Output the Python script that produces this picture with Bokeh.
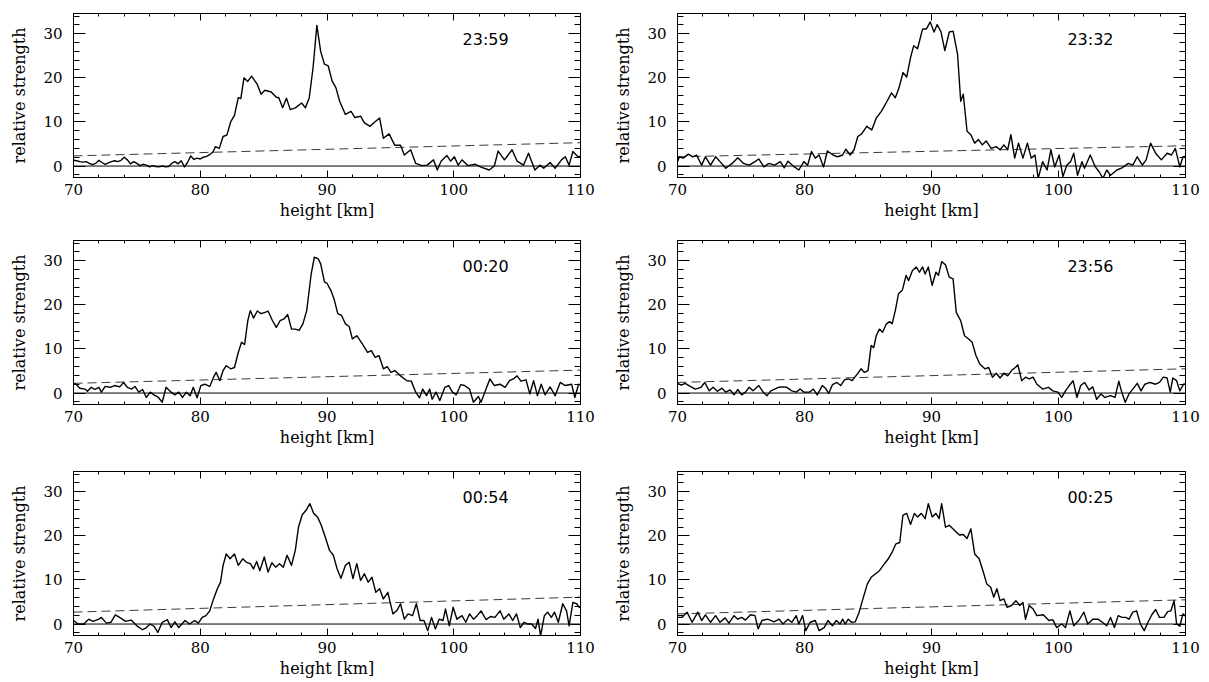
from bokeh.plotting import figure
from bokeh.layouts import column, row
from bokeh.models import LinearAxis, SingleIntervalTicker, Range1d, ColumnDataSource, Span
from bokeh.core.properties import value
from bokeh.embed import file_html
from bokeh.resources import INLINE

# ---------------- data ----------------
labels = ["23:59", "23:32", "00:20", "23:56", "00:54", "00:25"]

# 23:59
h_2359 = [70.0, 70.25, 70.5, 70.75, 71.0, 71.25, 71.5, 71.75, 72.0, 72.25, 72.5, 72.75, 73.0, 73.25, 73.5, 73.75,
          74.0, 74.25, 74.5, 74.75, 75.0, 75.25, 75.5, 75.75, 76.0, 76.25, 76.5, 76.75, 77.0, 77.25, 77.5, 77.75,
          78.0, 78.25, 78.5, 78.75, 79.0, 79.25, 79.5, 79.75, 80.0, 80.25, 80.5, 80.75, 81.0, 81.2, 81.5, 81.8,
          82.1, 82.4, 82.7, 83.0, 83.2, 83.45, 83.75, 84.05, 84.5, 84.8, 85.1, 85.6, 86.0, 86.2, 86.5, 86.8,
          87.1, 87.5, 88.0, 88.3, 88.6, 88.9, 89.2, 89.5, 89.8, 90.1, 90.4, 90.7, 91.0, 91.45, 91.9, 92.2,
          92.65, 92.95, 93.4, 93.7, 94.15, 94.45, 94.9, 95.35, 95.8, 96.1, 96.6, 97.0, 97.5, 97.9, 98.4, 98.7,
          99.0, 99.45, 99.75, 100.05, 100.35, 100.65, 101.1, 101.7, 102.2, 102.8, 103.2, 103.5, 104.0, 104.6,
          105.0, 105.5, 105.9, 106.4, 106.8, 107.1, 107.6, 108.0, 108.5, 108.8, 109.1, 109.4, 109.8, 110.0]
s_2359 = [1.3, 1.2, 1.0, 0.9, 1.0, 0.6, 0.3, 0.6, 1.3, 0.8, 0.4, 0.7, 1.0, 1.2, 1.0, 1.3,
          2.0, 1.4, 0.5, 1.0, 0.6, 0.1, 0.4, 0.2, -0.2, 0.1, -0.1, -0.2, 0.0, -0.2, -0.1, 0.6,
          1.0, 0.5, 1.2, -0.2, 0.8, 2.3, 1.5, 1.8, 1.6, 2.0, 2.2, 2.6, 3.2, 4.4, 4.0, 6.7,
          7.0, 10.0, 11.5, 15.5, 15.3, 20.0, 19.2, 20.4, 18.5, 16.3, 17.2, 16.8, 15.6, 15.5, 13.2, 15.4,
          12.8, 13.2, 14.3, 13.2, 15.5, 22.3, 31.9, 26.0, 23.1, 22.7, 19.3, 17.8, 14.7, 11.7, 12.4, 11.0,
          11.3, 9.8, 9.0, 9.8, 10.9, 6.3, 7.3, 4.7, 4.7, 2.5, 3.7, 0.6, 0.1, 0.2, 1.4, -0.9,
          1.1, 2.4, 1.1, 2.1, 0.2, 1.4, 0.1, 0.4, -0.3, -0.9, 0.0, 3.4, 1.4, 3.7,
          1.1, 0.2, 2.9, -0.9, 0.2, -0.5, 0.8, -0.5, 1.4, 2.1, 0.2, 3.3, 2.1, 2.2]

# 23:32
h_2332 = [70.0, 70.15, 70.45, 70.85, 71.2, 71.5, 71.9, 72.2, 72.6, 73.0, 73.35, 73.8, 74.3, 74.75, 75.2, 75.65,
          76.1, 76.4, 76.8, 77.2, 77.65, 78.1, 78.4, 78.7, 79.2, 79.55, 79.95, 80.25, 80.55, 80.85, 81.15, 81.5,
          81.8, 82.25, 82.6, 83.0, 83.25, 83.6, 83.9, 84.2, 84.5, 84.9, 85.3, 85.65, 86.05, 86.5, 86.85, 87.15,
          87.45, 87.75, 88.05, 88.35, 88.6, 88.9, 89.3, 89.6, 89.9, 90.2, 90.45, 90.75, 91.05, 91.4, 91.7, 92.05,
          92.3, 92.5, 92.8, 93.1, 93.4, 93.7, 94.0, 94.3, 94.7, 95.1, 95.4, 95.7, 96.0, 96.25, 96.55, 96.85,
          97.2, 97.55, 97.85, 98.15, 98.4, 98.75, 99.1, 99.4, 99.7, 100.05, 100.35, 100.65, 100.95, 101.2, 101.5, 101.85,
          102.05, 102.5, 102.9, 103.2, 103.5, 103.8, 104.1, 104.6, 105.0, 105.5, 105.85, 106.2, 106.6, 106.9, 107.25, 107.65,
          108.1, 108.55, 108.9, 109.2, 109.55, 109.8, 110.0]
s_2332 = [1.0, 2.1, 1.8, 2.7, 2.1, 2.5, 0.2, 2.1, 0.2, 2.1, 1.0, -0.5, 0.6, 1.9, 0.6, 0.2,
          1.0, 1.6, -0.2, 0.6, 0.2, 1.0, -0.4, 1.1, -0.2, -0.9, 1.0, 0.2, 3.3, 1.8, 2.5, -0.2,
          3.4, 2.5, 2.1, 2.5, 3.8, 2.5, 3.7, 6.7, 7.3, 9.0, 8.2, 10.9, 12.4, 14.7, 16.6, 15.5,
          17.8, 21.2, 20.2, 24.6, 27.3, 26.6, 31.1, 31.1, 32.7, 30.4, 32.1, 30.4, 26.2, 30.4, 30.6, 25.4,
          14.7, 16.3, 7.9, 7.1, 5.2, 6.0, 4.8, 5.7, 4.0, 4.4, 3.7, 4.8, 3.7, 7.1, 1.8, 5.2,
          1.8, 5.2, 1.8, 2.5, -2.8, 1.0, -0.9, 3.7, -0.2, 2.5, -2.4, 0.2, 1.0, 2.9, -2.1, 1.0,
          -0.5, 2.5, -0.2, -1.3, -2.8, -0.9, -2.1, -0.9, -0.4, 0.6, 0.2, 2.1, 0.2, 1.4, 5.2, 2.9,
          1.4, 2.9, 2.5, 4.0, -0.2, 2.1, 2.2]

# 00:20
h_0020 = [70.0, 70.2, 70.5, 70.9, 71.1, 71.4, 71.7, 72.0, 72.2, 72.5, 72.9, 73.25, 73.65, 73.95, 74.25, 74.6,
          74.85, 75.15, 75.45, 75.75, 76.05, 76.35, 76.7, 77.0, 77.3, 77.7, 78.0, 78.3, 78.6, 78.9, 79.2, 79.45,
          79.75, 80.05, 80.35, 80.75, 81.05, 81.25, 81.55, 81.8, 82.05, 82.4, 82.7, 83.0, 83.25, 83.5, 83.75, 83.95,
          84.2, 84.5, 84.8, 85.1, 85.35, 85.7, 86.0, 86.3, 86.6, 86.9, 87.2, 87.5, 87.8, 88.1, 88.4, 88.75,
          89.0, 89.3, 89.5, 89.8, 90.0, 90.3, 90.55, 90.85, 91.15, 91.45, 91.75, 92.0, 92.35, 92.8, 93.2, 93.5,
          93.8, 94.1, 94.45, 94.75, 95.05, 95.35, 95.8, 96.3, 96.65, 97.0, 97.3, 97.55, 97.85, 98.1, 98.3, 98.6,
          98.9, 99.3, 99.6, 99.9, 100.2, 100.55, 100.85, 101.25, 101.55, 101.95, 102.15, 102.45, 102.85, 103.2, 103.65, 104.05,
          104.4, 104.7, 105.0, 105.3, 105.7, 106.0, 106.3, 106.6, 106.9, 107.2, 107.6, 108.0, 108.4, 108.8, 109.3, 109.55,
          109.85, 110.0]
s_0020 = [2.2, 2.0, 1.1, 0.9, 0.4, 1.3, 0.8, 1.3, 0.2, 1.5, 1.3, 1.7, 1.4, 2.4, 1.3, 0.9,
          1.5, 0.2, 0.8, -1.0, 0.2, -0.4, -1.0, -2.1, 1.3, 0.2, -0.4, 0.2, -1.0, 0.2, -0.6, 1.3,
          -1.1, 1.7, 2.0, 1.5, 3.6, 4.7, 2.8, 5.1, 6.2, 5.5, 5.8, 9.2, 11.5, 11.0, 16.4, 18.7,
          17.0, 18.6, 18.0, 18.3, 18.6, 16.4, 14.9, 16.4, 16.8, 17.8, 14.5, 14.5, 14.2, 15.7, 18.7, 27.0,
          30.8, 30.5, 29.3, 25.2, 24.9, 23.3, 21.4, 18.0, 17.6, 15.7, 15.1, 12.3, 13.0, 11.1, 9.2, 9.6,
          8.1, 8.5, 5.5, 6.0, 4.7, 5.1, 3.9, 2.8, 2.7, 0.2, -1.1, 0.9, -0.6, 0.9, -1.4, 0.2,
          -1.7, 1.3, 1.7, 0.2, -0.4, 1.9, 1.7, 0.9, -2.1, -0.8, -2.1, 0.2, 3.2, 1.7, 2.0, 1.3,
          2.8, 3.2, 3.9, 2.7, 3.0, -0.2, 2.8, -0.6, 2.0, -0.4, 1.4, -0.6, 2.4, 1.7, 2.0, -1.0,
          2.0, 1.8]

# 23:56
h_2356 = [70.0, 70.3, 70.6, 71.0, 71.4, 71.85, 72.15, 72.5, 72.8, 73.15, 73.5, 73.8, 74.15, 74.45, 74.75, 75.05,
          75.35, 75.65, 75.95, 76.4, 76.75, 77.05, 77.35, 77.65, 77.95, 78.25, 78.6, 79.0, 79.35, 79.65, 79.95, 80.4,
          80.7, 81.0, 81.4, 81.65, 81.9, 82.2, 82.55, 82.85, 83.15, 83.45, 83.75, 84.15, 84.45, 84.7, 85.0, 85.25,
          85.45, 85.65, 85.9, 86.15, 86.45, 86.7, 86.9, 87.15, 87.4, 87.7, 88.0, 88.2, 88.5, 88.8, 89.05, 89.3,
          89.5, 89.75, 90.05, 90.35, 90.55, 90.8, 91.1, 91.4, 91.7, 91.95, 92.3, 92.6, 92.9, 93.2, 93.5, 93.8,
          94.2, 94.5, 94.8, 95.1, 95.4, 95.7, 96.0, 96.3, 96.6, 96.8, 97.1, 97.4, 97.7, 98.0, 98.3, 98.75,
          99.2, 99.55, 99.95, 100.25, 100.55, 100.85, 101.15, 101.45, 101.75, 102.05, 102.4, 102.7, 103.0, 103.35, 103.65, 104.1,
          104.45, 104.75, 104.95, 105.25, 105.55, 105.85, 106.2, 106.5, 106.8, 107.2, 107.65, 107.95, 108.25, 108.55, 108.8, 109.0,
          109.3, 109.55, 109.85, 110.0]
s_2356 = [2.2, 1.8, 2.2, 1.5, 0.9, 1.3, 2.4, 0.5, 1.3, 0.4, 1.1, 0.2, 0.7, -0.4, 0.8, -0.4,
          0.2, 1.3, 0.5, 1.7, 0.2, -0.6, 0.5, 0.9, 1.3, 1.4, 1.3, 0.5, 0.2, 0.9, 0.2, 0.2,
          0.9, -0.4, 1.7, 1.1, -0.1, 1.9, 2.4, 1.7, 3.0, 3.2, 2.8, 4.3, 5.5, 4.7, 5.1, 10.8,
          10.3, 13.0, 14.5, 13.8, 15.7, 16.2, 15.7, 18.7, 22.5, 23.3, 26.7, 25.5, 27.8, 28.6, 27.4, 28.6,
          27.0, 28.6, 24.4, 27.4, 26.7, 29.8, 29.1, 26.3, 25.9, 18.3, 16.4, 13.0, 12.3, 11.5, 8.5, 6.6,
          5.5, 5.8, 3.6, 4.5, 3.4, 4.5, 3.9, 5.1, 5.8, 6.4, 2.8, 3.6, 3.2, 3.6, 2.0, 0.9,
          1.3, 0.5, 0.2, -1.0, 0.5, 1.7, 2.8, -1.0, 1.7, 2.4, 0.7, 1.4, -1.4, -0.2, -1.0, -0.6,
          -1.0, 2.7, 0.5, -2.1, -0.2, 0.9, 2.2, 0.5, 2.0, 2.4, 2.0, 2.4, 3.6, 3.4, 0.2, 3.4,
          2.8, 0.5, 2.0, 2.1]

# 00:54
h_0054 = [70.0, 70.35, 70.8, 71.2, 71.55, 72.0, 72.2, 72.6, 72.95, 73.3, 73.7, 74.1, 74.55, 75.0, 75.45, 75.75,
          76.05, 76.35, 76.65, 77.0, 77.4, 77.7, 78.0, 78.3, 78.8, 79.15, 79.55, 79.85, 80.15, 80.45, 80.75, 81.05,
          81.35, 81.6, 81.8, 82.05, 82.35, 82.7, 83.0, 83.35, 83.65, 83.95, 84.2, 84.45, 84.7, 85.05, 85.35, 85.65,
          85.95, 86.25, 86.55, 86.85, 87.2, 87.5, 87.75, 88.05, 88.35, 88.65, 88.95, 89.25, 89.55, 89.9, 90.2, 90.5,
          90.8, 91.1, 91.45, 91.75, 92.05, 92.35, 92.65, 92.95, 93.25, 93.55, 93.85, 94.15, 94.45, 94.8, 95.2, 95.5,
          95.8, 96.1, 96.4, 96.75, 97.05, 97.35, 97.65, 97.95, 98.25, 98.55, 98.85, 99.15, 99.35, 99.65, 99.95, 100.25,
          100.65, 100.95, 101.25, 101.55, 101.85, 102.15, 102.55, 102.9, 103.25, 103.65, 103.95, 104.35, 104.65, 104.95, 105.25, 105.55,
          105.85, 106.15, 106.45, 106.65, 106.85, 107.15, 107.4, 107.7, 107.95, 108.25, 108.6, 108.9, 109.1, 109.4, 109.7, 109.9, 110.0]
s_0054 = [0.8, 0.0, 0.0, 1.1, 0.6, 1.1, 1.5, 0.2, 0.4, 2.1, 1.4, 0.6, 0.9, -0.4, -1.3, -0.8,
          0.0, -0.5, -1.9, 0.4, 1.0, -0.8, 0.5, -0.8, 0.8, 0.0, 0.8, 0.2, 1.5, 1.9, 3.0, 5.7,
          8.0, 9.5, 13.3, 15.9, 14.8, 15.9, 13.3, 14.8, 14.0, 13.7, 12.5, 14.2, 12.1, 15.2, 11.8, 13.9,
          12.9, 13.7, 12.9, 15.6, 13.3, 16.7, 22.0, 24.8, 25.8, 27.3, 25.1, 24.3, 22.4, 19.4, 16.7, 15.6,
          12.5, 10.4, 13.3, 14.0, 10.3, 13.7, 9.9, 11.4, 9.5, 10.6, 7.2, 8.0, 5.7, 7.2, 2.3, 3.0,
          4.6, 1.1, 2.3, 1.9, 4.6, 0.8, 0.8, -1.5, 1.5, -1.1, 1.1, 0.8, 3.4, -0.4, 3.8, 1.1,
          1.9, 0.4, 2.3, 1.1, 1.9, 3.0, 1.0, 1.7, 1.5, 3.0, 1.1, 2.3, 0.8, 2.3, -0.8, 0.4,
          0.0, 0.0, -1.0, 1.1, -2.7, 1.9, 2.7, 1.5, 2.7, 0.4, 4.6, 3.0, -0.4, 4.9, 4.6, 3.8, 3.9]

# 00:25
h_0025 = [70.0, 70.35, 70.75, 71.15, 71.6, 71.9, 72.2, 72.6, 73.0, 73.35, 73.75, 74.05, 74.45, 74.75, 75.05, 75.35,
          75.75, 76.1, 76.35, 76.65, 77.1, 77.6, 78.0, 78.3, 78.7, 79.0, 79.35, 79.55, 79.85, 80.1, 80.45, 80.85,
          81.15, 81.55, 81.85, 82.2, 82.5, 82.8, 83.0, 83.2, 83.45, 83.7, 84.0, 84.3, 84.6, 84.95, 85.25, 85.6,
          85.9, 86.2, 86.6, 86.9, 87.2, 87.5, 87.75, 88.05, 88.35, 88.65, 88.9, 89.2, 89.5, 89.75, 90.05, 90.35,
          90.6, 90.8, 91.1, 91.4, 91.8, 92.2, 92.5, 92.8, 93.1, 93.4, 93.75, 94.05, 94.35, 94.65, 94.9, 95.15,
          95.4, 95.7, 95.95, 96.3, 96.65, 96.95, 97.2, 97.4, 97.7, 98.0, 98.3, 98.8, 99.25, 99.55, 99.85, 100.25,
          100.55, 100.9, 101.2, 101.6, 102.0, 102.3, 102.7, 103.1, 103.45, 103.8, 104.1, 104.4, 104.7, 105.0, 105.3, 105.55,
          105.85, 106.15, 106.45, 106.75, 107.05, 107.35, 107.65, 107.95, 108.3, 108.6, 108.85, 109.1, 109.3, 109.55, 109.8, 110.0]
s_0025 = [1.5, 1.5, 2.7, 0.4, 2.7, 0.8, 2.1, 0.4, 1.9, 0.4, 1.4, 0.2, 1.9, 1.1, 1.5, 0.9,
          2.1, 1.9, -1.1, 0.8, 1.1, 0.5, 1.1, 0.0, 1.1, 0.4, 1.9, 0.0, 1.9, -1.5, 0.4, 0.8,
          -1.5, -0.8, 0.8, -0.4, 0.8, 0.0, 1.1, 0.0, 1.1, 0.4, 0.5, 2.7, 5.7, 9.1, 10.6, 11.4,
          12.1, 13.3, 14.8, 16.3, 18.2, 18.5, 24.7, 25.1, 22.6, 25.1, 24.3, 25.1, 23.9, 27.3, 24.3, 25.1,
          23.9, 27.3, 22.0, 22.4, 21.3, 20.2, 20.3, 19.4, 21.6, 15.9, 14.8, 12.1, 9.1, 8.4, 6.1, 8.0,
          5.3, 5.7, 3.8, 4.2, 5.3, 4.2, 4.9, 1.1, 4.2, 3.4, 1.9, 2.1, 0.8, 1.0, -0.8, 0.0,
          -0.8, 3.0, -0.4, 0.8, 2.7, 0.0, 1.1, 1.1, 0.4, -0.4, 1.5, -0.8, 1.9, 1.5, 1.5, 1.1,
          2.7, 3.0, 0.0, -1.5, 0.4, 2.1, 3.3, 1.5, 1.5, 2.8, 3.0, 5.3, 0.0, -0.5, 2.3, 1.8]

# dashed threshold lines (value at 70 km and 110 km)
thr_h = [70, 110]
thr_2359 = [2.3, 5.3]
thr_2332 = [2.1, 4.6]
thr_0020 = [2.2, 5.2]
thr_2356 = [2.4, 5.5]
thr_0054 = [2.7, 6.1]
thr_0025 = [2.3, 5.5]

series = [(h_2359, s_2359, thr_2359), (h_2332, s_2332, thr_2332),
          (h_0020, s_0020, thr_0020), (h_2356, s_2356, thr_2356),
          (h_0054, s_0054, thr_0054), (h_0025, s_0025, thr_0025)]

# ---------------- layout ----------------
col_w = [604, 605]
row_h = [227, 231, 224]
row_bottom = [50, 54, 47]
FONT_SERIF = "DejaVu Serif"


def style_axis(ax, horizontal, show_labels):
    ax.ticker = SingleIntervalTicker(interval=10, num_minor_ticks=5)
    ax.axis_line_color = "black"
    ax.axis_line_width = 1
    ax.major_tick_line_color = "black"
    ax.minor_tick_line_color = "black"
    ax.major_tick_out = 0
    ax.minor_tick_out = 0
    if horizontal:
        ax.major_tick_in = 7
        ax.minor_tick_in = 3
    else:
        ax.major_tick_in = 12
        ax.minor_tick_in = 6
    if show_labels:
        ax.major_label_text_font = FONT_SERIF
        ax.major_label_text_font_size = "15px"
        ax.major_label_text_color = "black"
        ax.axis_label_text_font = FONT_SERIF
        ax.axis_label_text_font_size = "16px"
        ax.axis_label_text_font_style = "normal"
        ax.axis_label_text_color = "black"
        if horizontal:
            ax.major_label_standoff = 6
            ax.axis_label_standoff = 3
        else:
            ax.major_label_standoff = 11
            ax.axis_label_standoff = 11
    else:
        ax.major_label_text_color = None
        ax.major_label_text_font_size = "1px"
        ax.major_label_standoff = 0


figs = []
for i, (hx, sy, thr) in enumerate(series):
    r, c = divmod(i, 2)
    p = figure(width=col_w[c], height=row_h[r],
               x_range=Range1d(70, 110), y_range=Range1d(-2.6, 34.6),
               output_backend="svg", toolbar_location=None,
               min_border_left=73, min_border_right=24,
               min_border_top=13, min_border_bottom=row_bottom[r],
               x_axis_type=None, y_axis_type=None)
    p.grid.visible = False
    p.outline_line_color = "black"
    p.outline_line_width = 1
    p.background_fill_color = "white"
    p.border_fill_color = "white"

    xb = LinearAxis(axis_label="height [km]")
    style_axis(xb, True, True)
    p.add_layout(xb, "below")
    yl = LinearAxis(axis_label="relative strength")
    style_axis(yl, False, True)
    p.add_layout(yl, "left")
    xt = LinearAxis()
    style_axis(xt, True, False)
    p.add_layout(xt, "above")
    yr = LinearAxis()
    style_axis(yr, False, False)
    p.add_layout(yr, "right")

    p.add_layout(Span(location=0, dimension="width", line_color="black", line_width=1))
    p.line(thr_h, thr, line_color="#3a3a3a", line_width=1, line_dash="9 5")
    p.line(hx, sy, line_color="black", line_width=1.4, line_join="round")

    src = ColumnDataSource(dict(x=[100.7], y=[28.7], t=[labels[i]]))
    p.text(x="x", y="y", text="t", source=src, text_font=value("DejaVu Sans"),
           text_font_size="16px", text_align="left", text_baseline="middle", text_color="black")
    figs.append(p)

layout = column(row(figs[0], figs[1], spacing=0),
                row(figs[2], figs[3], spacing=0),
                row(figs[4], figs[5], spacing=0), spacing=0)

open("out.html", "w").write(file_html(layout, INLINE))
